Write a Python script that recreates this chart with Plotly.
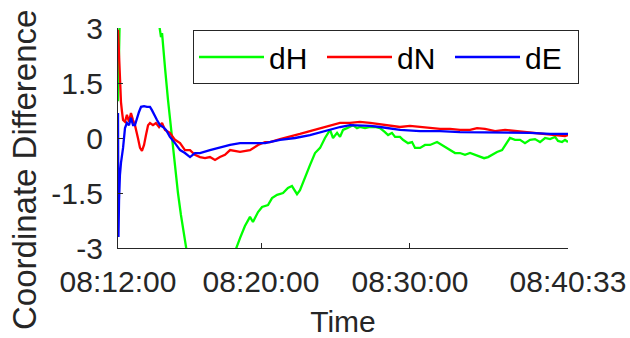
import plotly.graph_objects as go

# elapsed time in minutes from the first sample
tick_pos = [0, 9.61, 19.62, 30.24]
tick_labels = ["08:12:00", "08:20:00", "08:30:00", "08:40:33"]
y_ticks = [-3, -1.5, 0, 1.5, 3]
y_tick_labels = ["-3", "-1.5", "0", "1.5", "3"]

t_dH = [0, 0.07, 0.13, 0.81, 2.15, 2.69, 2.82, 2.89, 2.96, 3.02, 3.16, 3.36, 3.49, 3.63, 3.83,
        4.03, 4.23, 4.44, 4.57, 4.70, 5.5, 6.5, 7.4, 7.93, 8.20, 8.53, 8.87, 9.07, 9.41, 9.68,
        10.08, 10.35, 10.69, 11.09, 11.42, 11.69, 12.03, 12.23, 12.57, 12.90, 13.24, 13.58,
        13.91, 14.25, 14.45, 14.72, 14.92, 15.12, 15.39, 15.59, 15.79, 16.06, 16.26, 16.60,
        16.94, 17.27, 17.61, 17.94, 18.15, 18.41, 18.62, 18.95, 19.15, 19.49, 19.76, 19.96,
        20.30, 20.63, 20.97, 21.44, 21.77, 22.11, 22.31, 22.65, 22.98, 23.32, 23.66, 23.99,
        24.33, 24.60, 24.87, 25.13, 25.47, 25.81, 26.14, 26.34, 26.68, 27.02, 27.35, 27.69,
        28.02, 28.36, 28.70, 29.03, 29.37, 29.57, 29.84, 30.04, 30.24]
dH = [1.0, 3.0, 3.5, 4.0, 4.0, 3.3, 2.95, 2.75, 2.86, 2.62, 1.91, 1.04, 0.55, -0.05, -0.74,
      -1.50, -2.10, -2.65, -3.0, -3.3, -4.0, -4.2, -3.6, -3.0, -2.73, -2.40, -2.15, -2.29, -2.02, -1.88,
      -1.83, -1.64, -1.55, -1.50, -1.36, -1.31, -1.53, -1.42, -1.06, -0.74, -0.41, -0.27,
      0.0, 0.22, 0.0, 0.14, 0.03, 0.22, 0.27, 0.30, 0.35, 0.27, 0.30, 0.27,
      0.30, 0.30, 0.27, 0.16, 0.08, 0.14, 0.03, 0.03, -0.05, -0.14, -0.11, -0.27,
      -0.27, -0.19, -0.19, -0.11, -0.19, -0.27, -0.33, -0.41, -0.41, -0.46, -0.41, -0.46,
      -0.52, -0.55, -0.52, -0.46, -0.38, -0.33, -0.14, 0.0, -0.05, -0.05, -0.14, -0.05,
      -0.03, -0.11, 0.0, -0.03, 0.03, -0.08, -0.11, -0.05, -0.11]

t_dN = [0, 0.07, 0.13, 0.20, 0.27, 0.34, 0.47, 0.60, 0.74, 0.87, 1.01, 1.14, 1.34, 1.48, 1.61,
        1.75, 1.88, 2.02, 2.15, 2.35, 2.55, 2.76, 2.96, 3.16, 3.49, 3.83, 4.17, 4.50, 4.84,
        5.17, 5.51, 5.85, 6.18, 6.52, 6.85, 7.19, 7.53, 8.20, 8.87, 9.41, 9.88, 10.22, 10.89,
        11.56, 12.23, 12.90, 13.58, 14.25, 14.92, 15.59, 16.26, 16.94, 17.61, 18.28, 18.95,
        19.62, 20.30, 20.97, 21.64, 22.31, 22.98, 23.66, 24.13, 24.66, 25.34, 26.01, 26.68,
        27.35, 28.02, 28.70, 29.37, 30.04, 30.24]
dN = [2.95, 2.07, 1.64, 0.98, 0.71, 0.49, 0.44, 0.63, 0.44, 0.68, 0.49, 0.35, 0.0, -0.27, -0.35,
      -0.19, 0.08, 0.35, 0.41, 0.35, 0.41, 0.30, 0.41, 0.22, 0.14, -0.05, -0.14, -0.33, -0.33,
      -0.46, -0.52, -0.55, -0.52, -0.60, -0.52, -0.46, -0.33, -0.38, -0.33, -0.19, -0.11, -0.11, -0.03,
      0.03, 0.11, 0.19, 0.27, 0.33, 0.41, 0.41, 0.44, 0.41, 0.38, 0.33, 0.30,
      0.33, 0.30, 0.27, 0.25, 0.25, 0.22, 0.22, 0.27, 0.25, 0.19, 0.22, 0.19,
      0.16, 0.14, 0.11, 0.08, 0.05, 0.08]

t_dE = [0, 0.03, 0.07, 0.13, 0.20, 0.34, 0.47, 0.60, 0.74, 0.87, 1.01, 1.14, 1.28, 1.41, 1.55,
        1.75, 1.95, 2.15, 2.28, 2.42, 2.62, 2.82, 3.02, 3.23, 3.49, 3.83, 4.17, 4.50, 4.84,
        5.17, 5.51, 6.18, 6.85, 7.53, 8.20, 8.87, 9.88, 10.89, 11.90, 12.90, 13.91, 14.92,
        15.59, 16.26, 16.94, 17.61, 18.28, 18.95, 20.30, 21.64, 22.98, 25.00, 26.34, 27.69,
        29.03, 30.24]
dE = [0.68, -2.70, -1.69, -1.01, -0.68, -0.27, 0.27, 0.41, 0.35, 0.55, 0.35, 0.35, 0.57, 0.71, 0.85,
      0.87, 0.85, 0.85, 0.76, 0.63, 0.49, 0.35, 0.30, 0.22, 0.03, -0.14, -0.33, -0.41, -0.52,
      -0.41, -0.41, -0.33, -0.25, -0.19, -0.14, -0.14, -0.14, -0.05, 0.0, 0.08, 0.19, 0.30,
      0.35, 0.35, 0.33, 0.30, 0.25, 0.22, 0.19, 0.19, 0.16, 0.16, 0.16, 0.14,
      0.11, 0.11]

TXT = "#262626"
FONT = "Liberation Sans, Arial, sans-serif"

fig = go.Figure()
fig.add_trace(go.Scatter(x=t_dH, y=dH, mode="lines", name="dH",
                         line=dict(color="#00ff00", width=2.3)))
fig.add_trace(go.Scatter(x=t_dN, y=dN, mode="lines", name="dN",
                         line=dict(color="#ff0000", width=2.3)))
fig.add_trace(go.Scatter(x=t_dE, y=dE, mode="lines", name="dE",
                         line=dict(color="#0000ff", width=2.3)))

fig.update_layout(
    width=630, height=338,
    margin=dict(l=118, r=62, t=28, b=90, autoexpand=False),
    paper_bgcolor="white", plot_bgcolor="white",
    font=dict(family=FONT, size=30, color=TXT),
    showlegend=True,
    legend=dict(
        orientation="h",
        x=(193 - 118) / 450, y=(248 - 30) / 220,
        xanchor="left", yanchor="top",
        bgcolor="white", bordercolor=TXT, borderwidth=1,
        font=dict(family=FONT, size=30, color="black"),
        itemwidth=65,
        entrywidth=48,
        tracegroupgap=0,
    ),
    xaxis=dict(
        range=[0, 30.24], automargin=False,
        tickmode="array", tickvals=tick_pos, ticktext=tick_labels,
        ticks="inside", ticklen=5, tickcolor=TXT,
        showline=True, linecolor=TXT, linewidth=1,
        showgrid=False, zeroline=False,
        tickfont=dict(family=FONT, size=30, color=TXT),
        ticklabelstandoff=7,
        title=dict(text="Time", font=dict(family=FONT, size=30, color=TXT), standoff=14),
    ),
    yaxis=dict(
        range=[-3, 3], automargin=False,
        tickmode="array", tickvals=y_ticks, ticktext=y_tick_labels,
        ticks="inside", ticklen=5, tickcolor=TXT,
        showline=True, linecolor=TXT, linewidth=1,
        showgrid=False, zeroline=False,
        tickfont=dict(family=FONT, size=30, color=TXT),
        ticklabelstandoff=8,
    ),
    annotations=[dict(
        text="Coordinate Difference", textangle=-90,
        xref="paper", yref="paper",
        x=(24 - 118) / 450, y=(248 - 170) / 220,
        xanchor="center", yanchor="middle", showarrow=False,
        font=dict(family=FONT, size=33, color=TXT),
    )],
)

fig.write_html("out.html", post_script="document.body.style.margin='0';",
               config={"displayModeBar": False})
